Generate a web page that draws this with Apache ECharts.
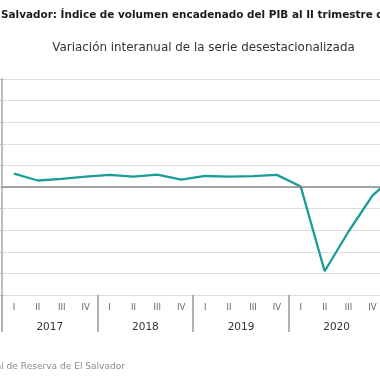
<!DOCTYPE html>
<html><head><meta charset="utf-8">
<script src="https://cdn.jsdelivr.net/npm/echarts@6/dist/echarts.min.js"></script>
<style>html,body{margin:0;padding:0;background:#fff;overflow:hidden}#c{width:480px;height:380px}</style>
</head><body><div id="c"></div>
<script>
const quarters = ['I','II','III','IV','I','II','III','IV','I','II','III','IV','I','II','III','IV','I','II','III','IV'];
const years = ['2017','2018','2019','2020','2021'];
const growth = [3.1, 1.5, 1.9, 2.4, 2.8, 2.4, 2.85, 1.7, 2.55, 2.4, 2.5, 2.8, 0.1, -19.5, -10.3, -2.0, 3.0];
const titleText = 'El Salvador: Índice de volumen encadenado del PIB al II trimestre de 2021';
const subtitleText = 'Variación interanual de la serie desestacionalizada';
const sourceText = 'Fuente: Banco Central de Reserva de El Salvador';

const fam = 'DejaVu Sans';
const cv = document.createElement('canvas').getContext('2d');
function fitSize(text, target, weight) {
  cv.font = weight + ' 10px "' + fam + '"';
  return 10 * target / cv.measureText(text).width;
}
const titleSize = fitSize('Salvador: Índice de volumen encadenado del PIB al II trimestre', 372, 'bold');
cv.font = 'bold ' + titleSize + 'px "' + fam + '"';
const clipW = cv.measureText('El ').width;
const subSize = fitSize(subtitleText, 303, 'normal');
const srcSize = fitSize('l de Reserva de El Salvador', 124, 'normal');

const chart = echarts.init(document.getElementById('c'), null, {renderer: 'canvas'});
chart.setOption({
  animation: false,
  grid: {left: 2, right: 0, top: 79, bottom: 85, containLabel: false},
  graphic: [
    {type: 'text', x: 1 - clipW, y: 15, style: {text: titleText, fontFamily: fam, fontWeight: 'bold', fontSize: titleSize, fill: '#1a1a1a', textVerticalAlign: 'middle'}},
    {type: 'text', x: 203.5, y: 48, style: {text: subtitleText, fontFamily: fam, fontSize: subSize, fill: '#333', textAlign: 'center', textVerticalAlign: 'middle'}},
    {type: 'text', x: 125, y: 367, style: {text: sourceText, fontFamily: fam, fontSize: srcSize, fill: '#8c8c8c', textAlign: 'right', textVerticalAlign: 'middle'}}
  ],
  xAxis: [
    {type: 'category', data: quarters, boundaryGap: true, position: 'bottom',
     axisLine: {show: true, onZero: false, lineStyle: {color: '#dcdcdc', width: 1}}, axisTick: {show: false},
     axisLabel: {color: '#666', fontFamily: fam, fontSize: 8.5, margin: 8, interval: 0},
     splitLine: {show: false}},
    {type: 'category', data: years, boundaryGap: true, position: 'bottom', offset: 37,
     axisLine: {show: false, onZero: false},
     axisTick: {show: true, inside: true, length: 37, interval: 0, lineStyle: {color: '#999', width: 1.5}},
     axisLabel: {color: '#333', fontFamily: fam, fontSize: 10.5, margin: -10, interval: 0},
     splitLine: {show: false}}
  ],
  yAxis: {type: 'value', min: -25, max: 25, interval: 5,
    axisLine: {show: true, lineStyle: {color: '#bdbdbd', width: 2}},
    axisTick: {show: true, length: 3, lineStyle: {color: '#bdbdbd'}},
    axisLabel: {show: false},
    splitLine: {lineStyle: {color: '#dcdcdc', width: 1}}},
  series: [{
    type: 'line', xAxisIndex: 0, data: growth, showSymbol: false, symbol: 'none',
    lineStyle: {color: '#1a9d99', width: 2.3},
    markLine: {silent: true, symbol: 'none', label: {show: false},
      lineStyle: {color: '#8a8a8a', width: 1.5, type: 'solid'}, data: [{yAxis: 0}]}
  }]
});
</script></body></html>
